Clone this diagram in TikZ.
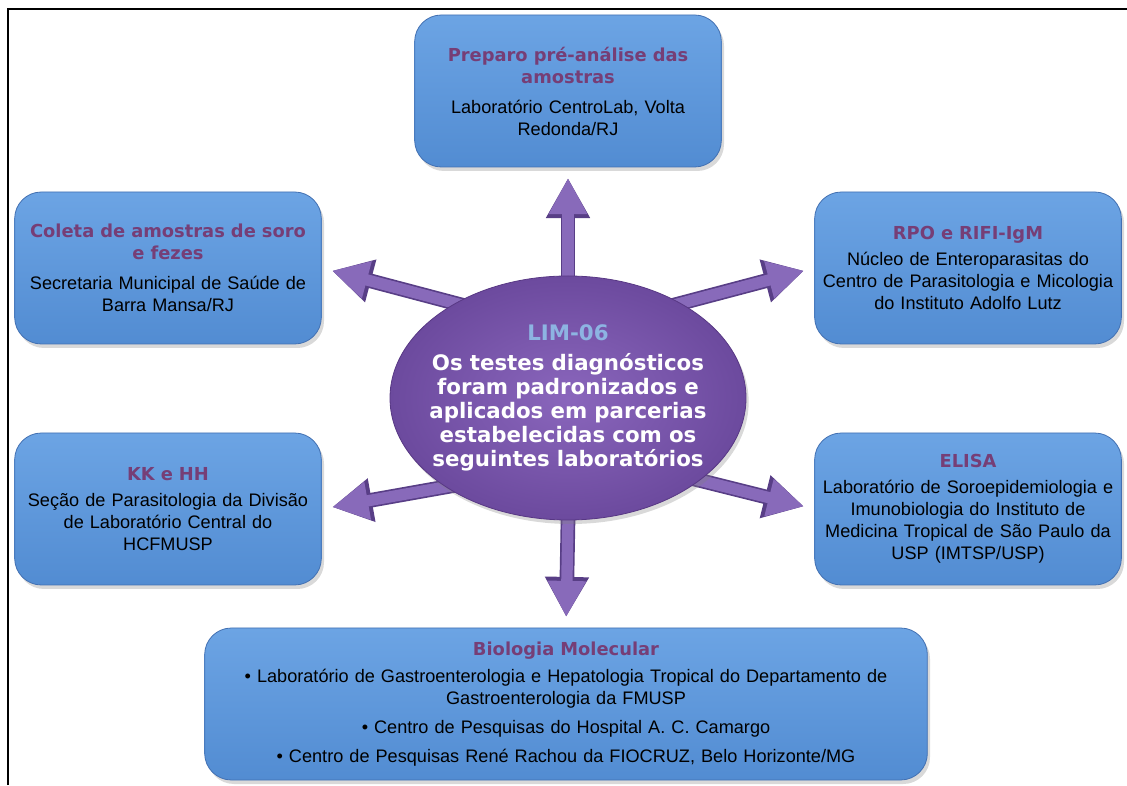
\documentclass[tikz,border=0pt]{standalone}
\usepackage{fontspec}
\setmainfont{Liberation Sans}
\newfontfamily\headfont{DejaVu Sans}
\usetikzlibrary{arrows.meta,shadows,shapes.geometric,backgrounds}

\definecolor{boxtop}{RGB}{108,164,228}
\definecolor{boxbot}{RGB}{82,140,210}
\definecolor{boxedge}{RGB}{66,112,178}
\definecolor{titlecol}{RGB}{118,62,118}
\definecolor{limin}{RGB}{138,102,188}
\definecolor{limout}{RGB}{108,74,158}
\definecolor{limedge}{RGB}{88,56,132}
\definecolor{limblue}{RGB}{141,180,226}
\definecolor{arrowfill}{RGB}{136,106,186}
\definecolor{arrowedge}{RGB}{88,62,134}

\newcommand{\bodyfont}{\fontsize{13.6pt}{16.5pt}\selectfont}
\newcommand{\labtitle}{\headfont\bfseries\fontsize{13.4pt}{16.5pt}\selectfont\color{titlecol}}

\begin{document}
\begin{tikzpicture}[x=0.75pt,y=0.75pt,
    labbox/.style={rounded corners=20pt, minimum width=230pt, minimum height=114pt,
      text width=226pt, inner xsep=2pt, top color=boxtop, bottom color=boxbot,
      draw=boxedge, line width=0.6pt, align=center, font=\bodyfont,
      drop shadow={opacity=0.3, shadow xshift=2pt, shadow yshift=-3pt}},
    limnode/.style={ellipse, minimum width=267pt, minimum height=183pt,
      inner xsep=-25pt, inner ysep=0pt, text width=212pt,
      inner color=limin, outer color=limout, draw=limedge,
      line width=0.6pt, align=center, text=white,
      font=\headfont\bfseries\fontsize{16pt}{18pt}\selectfont,
      drop shadow={opacity=0.3, shadow xshift=2pt, shadow yshift=-3pt}},
    fatarrow/.style={line width=8.5pt, draw=arrowfill, shorten <=-24pt, shorten >=8pt,
      -{Triangle[width=27pt,length=27pt,fill=arrowfill]},
      preaction={draw=arrowedge, line width=11pt,
        -{Triangle[width=31pt,length=30pt,fill=arrowedge]}}}]
    \useasboundingbox (0,0) rectangle (1127,785);
    \draw[line width=1.5pt] (8,0) -- (8,776) -- (1127,776);

    \node[labbox] (prep) at (568,694)
      {{\labtitle Preparo pré-análise das\\amostras}\\[6pt]
       Laboratório CentroLab, Volta\\Redonda/RJ};
    \node[labbox] (coleta) at (168,517)
      {{\labtitle Coleta de amostras de soro\\e fezes}\\[6pt]
       Secretaria Municipal de Saúde de\\Barra Mansa/RJ};
    \node[labbox] (rpo) at (968,517)
      {{\labtitle RPO e RIFI-IgM}\\[3pt]
       Núcleo de Enteroparasitas do\\Centro de Parasitologia e Micologia\\do Instituto Adolfo Lutz};
    \node[labbox] (kk) at (168,276)
      {{\labtitle KK e HH}\\[3pt]
       Seção de Parasitologia da Divisão\\de Laboratório Central do\\HCFMUSP};
    \node[labbox] (elisa) at (968,276)
      {{\labtitle ELISA}\\[3pt]
       Laboratório de Soroepidemiologia e\\Imunobiologia do Instituto de\\Medicina Tropical de São Paulo da\\USP (IMTSP/USP)};
    \node[labbox, minimum width=542pt, text width=536pt] (bio) at (566,81)
      {{\labtitle Biologia Molecular}\\[4pt]
       \textbullet\ Laboratório de Gastroenterologia e Hepatologia Tropical do Departamento de\\
       Gastroenterologia da FMUSP\\[5pt]
       \textbullet\ Centro de Pesquisas do Hospital A. C. Camargo\\[5pt]
       \textbullet\ Centro de Pesquisas René Rachou da FIOCRUZ, Belo Horizonte/MG};

    \node[limnode] (lim) at (568,387)
      {{\color{limblue}LIM-06}\\[5pt]
       Os testes diagnósticos\\foram padronizados e\\aplicados em parcerias\\estabelecidas com os\\seguintes laboratórios};

    \begin{scope}[on background layer]
      \draw[fatarrow] (lim.north) -- (prep.south);
      \draw[fatarrow] (lim.140) -- (coleta.east);
      \draw[fatarrow] (lim.40) -- (rpo.west);
      \draw[fatarrow] (lim.216) -- (kk.east);
      \draw[fatarrow] (lim.328) -- (elisa.west);
      \draw[fatarrow] (lim.south) -- (bio.north);
    \end{scope}
  \end{tikzpicture}
\end{document}
